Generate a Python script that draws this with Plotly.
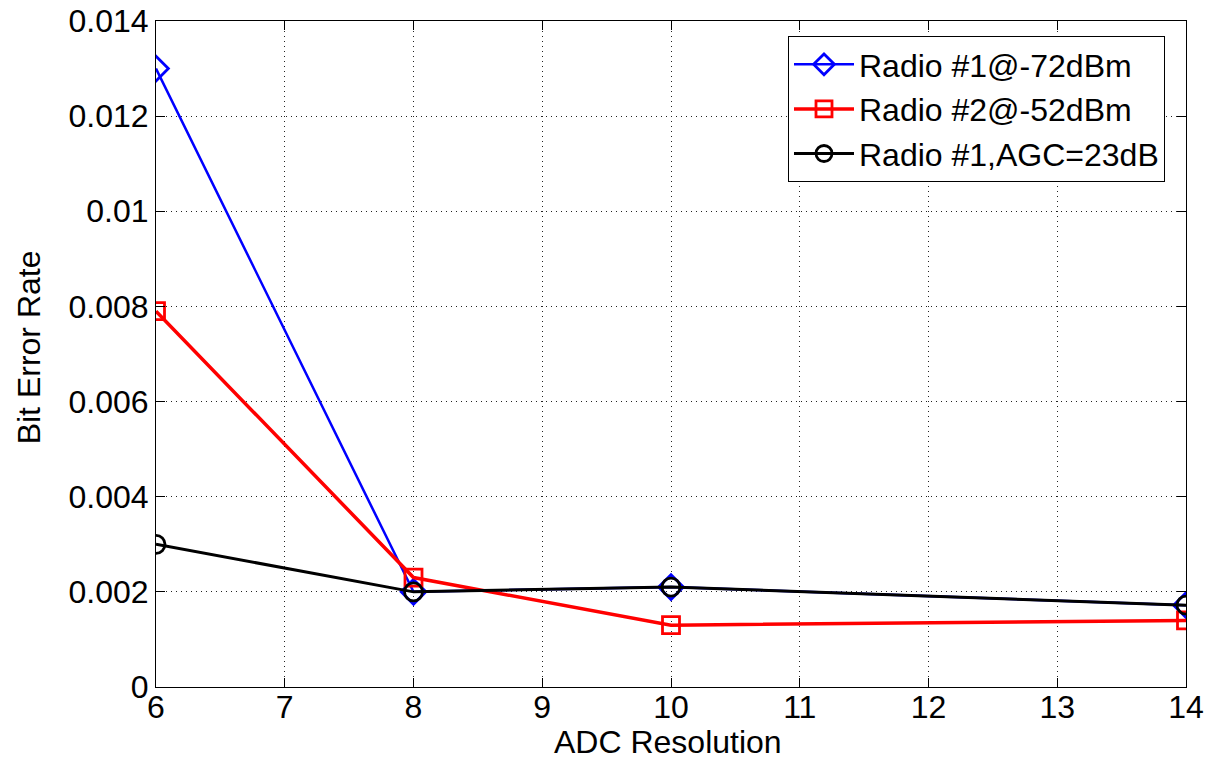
import plotly.graph_objects as go

adc_bits = [6, 8, 10, 14]
radio1_72dbm = [0.0130, 0.0020, 0.0021, 0.00172]
radio2_52dbm = [0.0079, 0.0023, 0.0013, 0.0014]
radio1_agc23 = [0.0030, 0.0020, 0.0021, 0.00172]

series_names = ["Radio #1@-72dBm", "Radio #2@-52dBm", "Radio #1,AGC=23dB"]
y_ticks = [0, 0.002, 0.004, 0.006, 0.008, 0.01, 0.012, 0.014]
y_tick_labels = ["0", "0.002", "0.004", "0.006", "0.008", "0.01", "0.012", "0.014"]
x_ticks = [6, 7, 8, 9, 10, 11, 12, 13, 14]
x_title = "ADC Resolution"
y_title = "Bit Error Rate"

font_family = "Liberation Sans, Arial, sans-serif"

fig = go.Figure()
styles = [
    (radio1_72dbm, "#0000ff", "diamond-open", 2.5, 19),
    (radio2_52dbm, "#ff0000", "square-open", 3.5, 17),
    (radio1_agc23, "#000000", "circle-open", 3, 18),
]
for (vals, color, sym, lw, ms), name in zip(styles, series_names):
    fig.add_trace(go.Scatter(
        x=adc_bits, y=vals, name=name, mode="lines+markers",
        line=dict(color=color, width=lw),
        marker=dict(symbol=sym, size=ms, color=color, line=dict(color=color, width=2.8)),
    ))

axis_common = dict(
    showline=True, linecolor="black", linewidth=1, mirror="ticks",
    ticks="inside", ticklen=9, tickcolor="black",
    showgrid=True, gridcolor="#222222", griddash="1px,4px", gridwidth=1,
    zeroline=False, automargin=False, ticklabeloverflow="allow",
    tickfont=dict(family=font_family, size=32, color="black"),
)

fig.update_xaxes(range=[6, 14], tickvals=x_ticks, ticklabelstandoff=-8, **axis_common)
fig.update_yaxes(range=[0, 0.014], tickvals=y_ticks, ticktext=y_tick_labels, **axis_common)

# page body has an 8px margin, so the figure is sized/offset to compensate
fig.update_layout(
    width=1211, height=749,
    margin=dict(l=148, r=33, t=13, b=70),
    paper_bgcolor="white", plot_bgcolor="white",
    font=dict(family=font_family, color="black"),
    showlegend=True,
    legend=dict(
        x=(1165 - 156) / 1030, y=1 - (36 - 21) / 666,
        xanchor="right", yanchor="top",
        bgcolor="white", bordercolor="black", borderwidth=1,
        font=dict(family=font_family, size=32, color="black"),
        itemwidth=60, tracegroupgap=0,
    ),
    annotations=[
        dict(text=x_title, xref="paper", yref="paper", x=0.497, y=-75 / 666,
             xanchor="center", yanchor="bottom", showarrow=False,
             font=dict(family=font_family, size=32, color="black")),
        dict(text=y_title, xref="paper", yref="paper", x=-127 / 1030, y=0.51,
             xanchor="center", yanchor="middle", textangle=-90, showarrow=False,
             font=dict(family=font_family, size=32, color="black")),
    ],
)

fig.write_html("out.html")
